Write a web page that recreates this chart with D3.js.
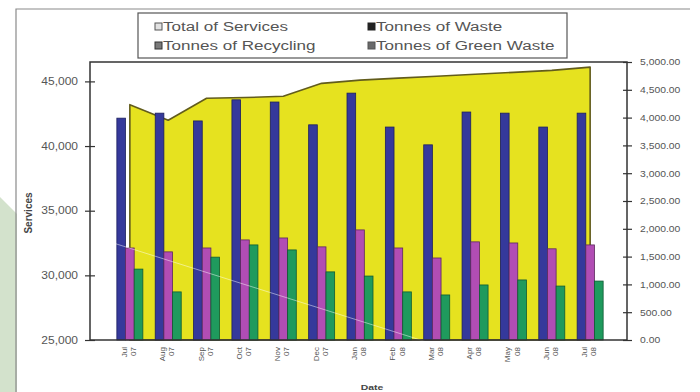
<!DOCTYPE html>
<html>
<head>
<meta charset="utf-8">
<script src="https://cdn.jsdelivr.net/npm/d3@7"></script>
<style>
  html, body { margin: 0; padding: 0; background: #fff; }
  svg { display: block; font-family: "Liberation Sans", Arial, sans-serif; }
</style>
</head>
<body>
<svg id="chart" width="700" height="392"></svg>
<script>
// Monthly figures
const months = ["Jul", "Aug", "Sep", "Oct", "Nov", "Dec", "Jan", "Feb", "Mar", "Apr", "May", "Jun", "Jul"];
const years  = ["07", "07", "07", "07", "07", "07", "08", "08", "08", "08", "08", "08", "08"];

// Services per month (left axis, drawn as an area)
const totalServices = [43200, 42000, 43700, 43750, 43850, 44850, 45100, 45250, 45400, 45550, 45700, 45850, 46100];

// Tonnage per month (right axis, drawn as bars)
const tonnesWaste     = [3990, 4080, 3940, 4320, 4280, 3870, 4440, 3830, 3510, 4100, 4080, 3830, 4080];
const tonnesRecycling = [1655, 1585, 1655, 1800, 1835, 1675, 1980, 1655, 1475, 1765, 1745, 1640, 1710];
const tonnesGreen     = [1275, 865, 1490, 1710, 1620, 1225, 1150, 865, 810, 990, 1080, 970, 1060];

const leftTicks  = [25000, 30000, 35000, 40000, 45000];
const rightTicks = [0, 500, 1000, 1500, 2000, 2500, 3000, 3500, 4000, 4500, 5000];

const legendItems = [
  { label: "Total of Services",      fill: "#e2e2e2", stroke: "#555" },
  { label: "Tonnes of Waste",        fill: "#222",    stroke: "#222" },
  { label: "Tonnes of Recycling",    fill: "#7a7a7a", stroke: "#333" },
  { label: "Tonnes of Green Waste",  fill: "#6a6a6a", stroke: "#555" }
];

const colors = {
  waste: "#35399b",
  recycling: "#b14db4",
  green: "#1f9a5d",
  area: "#e6e21f",
  areaLine: "#625c1c"
};

// the whole figure is set in a horizontally widened face
const WIDEN = 1.42;
function widen(sel, factor) {
  sel.each(function () {
    const len = this.getComputedTextLength();
    d3.select(this).attr("textLength", len * factor).attr("lengthAdjust", "spacingAndGlyphs");
  });
}

const svg = d3.select("#chart");
const plot = { left: 90, right: 627, top: 62, bottom: 340 };

// decorative page edge at the lower left
svg.append("path")
  .attr("d", "M0,197 L17,214 L17,392 L0,392 Z")
  .attr("fill", "#d3e2cc");

// chart area border
svg.append("path")
  .attr("d", "M16,392 L16,9 L690,9")
  .attr("fill", "none")
  .attr("stroke", "#8a8a8a")
  .attr("stroke-width", 1.2);

const idx = d3.range(months.length);
const x = d3.scaleBand().domain(idx).range([plot.left, plot.right]).paddingInner(0).paddingOuter(0.5);
const seriesKeys = ["waste", "recycling", "green"];
const xs = d3.scaleBand().domain(seriesKeys).range([-13, 13]).padding(0);
const yL = d3.scaleLinear().domain([25000, 46500]).range([plot.bottom, plot.top]);
const yR = d3.scaleLinear().domain([0, 5000]).range([plot.bottom, plot.top]);

const cx = i => x(i) + x.bandwidth() / 2 + 1.5;

// Services area
const area = d3.area()
  .x((d, i) => cx(i))
  .y0(plot.bottom)
  .y1(d => yL(d));
svg.append("path")
  .datum(totalServices)
  .attr("d", area)
  .attr("fill", colors.area)
  .attr("stroke", colors.areaLine)
  .attr("stroke-width", 1.6)
  .attr("stroke-linejoin", "round");

// Tonnage bars
const seriesData = { waste: tonnesWaste, recycling: tonnesRecycling, green: tonnesGreen };
const barStroke = { waste: "#1c1f5e", recycling: "#5c2a5e", green: "#0f5a34" };
seriesKeys.forEach(k => {
  svg.append("g").selectAll("rect")
    .data(seriesData[k])
    .join("rect")
    .attr("x", (d, i) => cx(i) + xs(k))
    .attr("width", xs.bandwidth())
    .attr("y", d => yR(d))
    .attr("height", d => plot.bottom - yR(d))
    .attr("fill", colors[k])
    .attr("stroke", barStroke[k])
    .attr("stroke-width", 0.8);
});

// thin light streak across the lower plot
svg.append("line")
  .attr("x1", 50).attr("y1", 223).attr("x2", 430).attr("y2", 343)
  .attr("stroke", "#ffffff").attr("stroke-opacity", 0.6).attr("stroke-width", 0.8);

// plot frame
svg.append("rect")
  .attr("x", plot.left).attr("y", plot.top)
  .attr("width", plot.right - plot.left).attr("height", plot.bottom - plot.top)
  .attr("fill", "none").attr("stroke", "#333").attr("stroke-width", 1.5);

// left axis
const leftAxis = d3.axisLeft(yL).tickValues(leftTicks).tickSize(0)
  .tickFormat(d3.format(",")).tickPadding(12);
const gL = svg.append("g").attr("transform", `translate(${plot.left},0)`).call(leftAxis);
gL.select(".domain").remove();
gL.selectAll("text").attr("font-size", 10).attr("fill", "#555").call(widen, 1.2);
gL.selectAll(".tick").append("line").attr("x1", -5).attr("x2", 5).attr("stroke", "#333").attr("stroke-width", 1.2);

// right axis
const rightAxis = d3.axisRight(yR).tickValues(rightTicks).tickSize(0)
  .tickFormat(d3.format(",.2f")).tickPadding(13);
const gR = svg.append("g").attr("transform", `translate(${plot.right},0)`).call(rightAxis);
gR.select(".domain").remove();
gR.selectAll("text").attr("font-size", 9).attr("fill", "#555").call(widen, 1.15);
gR.selectAll(".tick").append("line").attr("x1", -4).attr("x2", 5).attr("stroke", "#333").attr("stroke-width", 1.2);

// category labels, rotated two-line
const gX = svg.append("g");
idx.forEach(i => {
  const t = gX.append("text")
    .attr("transform", `translate(${cx(i) - 3},347) rotate(-90)`)
    .attr("text-anchor", "end")
    .attr("font-size", 8)
    .attr("fill", "#555");
  t.append("tspan").attr("x", 0).attr("dy", "0em").text(months[i]);
  t.append("tspan").attr("x", 0).attr("dy", "1.15em").text(years[i]);
});

// axis titles
svg.append("text")
  .attr("transform", "translate(32,213) rotate(-90)")
  .attr("text-anchor", "middle")
  .attr("font-size", 10).attr("font-weight", "bold").attr("fill", "#444")
  .text("Services");
svg.append("text")
  .attr("x", 372).attr("y", 390)
  .attr("text-anchor", "middle")
  .attr("font-size", 8).attr("font-weight", "bold").attr("fill", "#444")
  .text("Date")
  .call(widen, 1.3);

// legend
const lg = svg.append("g");
lg.append("rect")
  .attr("x", 138).attr("y", 13).attr("width", 429).attr("height", 45)
  .attr("fill", "#fff").attr("stroke", "#555").attr("stroke-width", 1.2);
const legendPos = [[155, 27], [368, 27], [155, 46], [368, 46]];
legendItems.forEach((it, i) => {
  const [lx, ly] = legendPos[i];
  lg.append("rect")
    .attr("x", lx).attr("y", ly - 4).attr("width", 7).attr("height", 7)
    .attr("fill", it.fill).attr("stroke", it.stroke).attr("stroke-width", 1);
  lg.append("text")
    .attr("x", lx + 8).attr("y", ly + 4)
    .attr("font-size", 12).attr("fill", "#555")
    .text(it.label)
    .call(widen, WIDEN);
});
</script>
</body>
</html>
